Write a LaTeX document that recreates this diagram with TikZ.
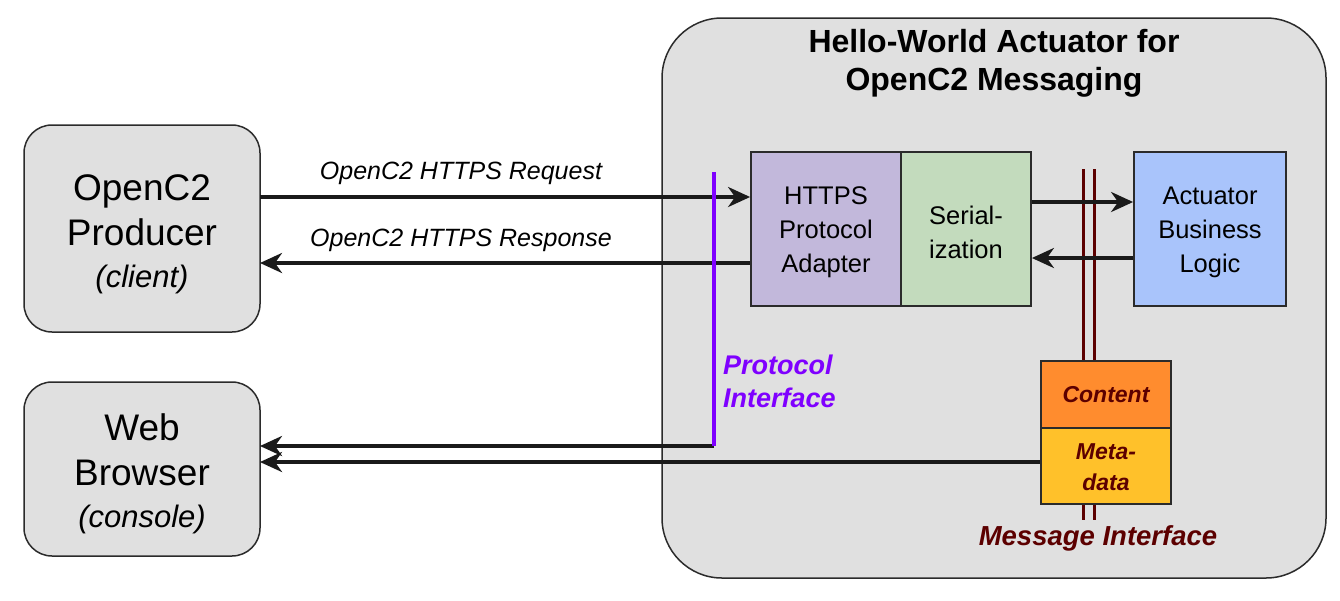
\documentclass[tikz,border=0pt]{standalone}
\usepackage{fontspec}
\setmainfont{Liberation Sans}
\usetikzlibrary{arrows.meta}
\definecolor{boxgray}{HTML}{E0E0E0}
\definecolor{edgegray}{HTML}{2B2B2B}
\definecolor{lav}{HTML}{C2B8DB}
\definecolor{sage}{HTML}{C3DBBD}
\definecolor{skyb}{HTML}{A9C4FB}
\definecolor{orng}{HTML}{FF8C2E}
\definecolor{ambr}{HTML}{FFC12A}
\definecolor{dred}{HTML}{5C0000}
\definecolor{purp}{HTML}{7F00FF}
\definecolor{arr}{HTML}{1A1A1A}
\tikzset{
  ext/.style={draw=edgegray, line width=1.5pt, fill=boxgray, rounded corners=28pt},
  inner/.style={draw=edgegray, line width=1.8pt, inner sep=0pt},
  conn/.style={draw=arr, line width=3.6pt, -{Stealth[length=22pt,width=20pt,inset=7pt]}},
  msgline/.style={draw=dred, line width=3pt},
  btxt/.style={font=\fontsize{25.5}{34}\selectfont, align=center, text=black},
  lbl/.style={font=\fontsize{25}{28}\selectfont\itshape, text=black},
}
\begin{document}
\begin{tikzpicture}[x=1pt,y=-1pt]
\useasboundingbox (0,0) rectangle (1340,600);
% outer boxes
\draw[ext] (24,125) rectangle (260,332);
\draw[ext] (24,382) rectangle (260,556);
\draw[ext, rounded corners=60pt] (662,18) rectangle (1326,578);
\node (producer) at (142,234) [align=center, font=\fontsize{37}{45}\selectfont] {OpenC2\\Producer\\[-3pt]{\fontsize{31}{36}\selectfont\itshape(client)}};
\coordinate (prodE) at (260,228);
\node (browser) at (142,474) [align=center, font=\fontsize{37}{45}\selectfont] {Web\\Browser\\[-3pt]{\fontsize{31}{36}\selectfont\itshape(console)}};
\node (title) at (994,63) [align=center, font=\fontsize{32}{38}\selectfont\bfseries] {Hello-World Actuator for\\OpenC2 Messaging};
% message interface lines
\draw[msgline] (1083,169) -- (1083,520);
\draw[msgline] (1094,169) -- (1094,520);
% inner boxes
\node[inner, fill=lav, minimum width=150pt, minimum height=154pt] (https) at (826,229) {};
\node[btxt] at (826,232) {HTTPS\\Protocol\\Adapter};
\node[inner, fill=sage, minimum width=130pt, minimum height=154pt] (ser) at (966,229) {};
\node[btxt] at (966,232) {Serial-\\ization};
\node[inner, fill=skyb, minimum width=152pt, minimum height=154pt] (act) at (1210,229) {};
\node[btxt] at (1210,232) {Actuator\\Business\\Logic};
\node[inner, fill=orng, minimum width=130pt, minimum height=67pt] (content) at (1106,394.5) {};
\node[font=\fontsize{23}{30}\selectfont\bfseries\itshape, text=dred] at (1106,395) {Content};
\node[inner, fill=ambr, minimum width=130pt, minimum height=76pt] (meta) at (1106,466) {};
\node[font=\fontsize{23}{31}\selectfont\bfseries\itshape, text=dred, align=center] at (1106,467) {Meta-\\data};
\node (msglbl) at (1098,538) [font=\fontsize{27.5}{30}\selectfont\bfseries\itshape, text=dred] {Message Interface};
% protocol interface
\coordinate (ptop) at (714,172);
\coordinate (pbot) at (714,446);
\node (protlbl) at (723,381) [anchor=west, inner sep=0pt, align=left, font=\fontsize{27}{33}\selectfont\bfseries\itshape, text=purp] {Protocol\\Interface};
% connectors
\draw[conn] (prodE |- 0,197) -- (https.west |- 0,197);
\node[lbl] (reqlbl) at (461,173) {OpenC2 HTTPS Request};
\draw[conn] (https.west |- 0,263) -- (prodE |- 0,263);
\node[lbl] (reslbl) at (461,240) {OpenC2 HTTPS Response};
\draw[conn] (ser.east |- 0,202) -- (act.west |- 0,202);
\draw[conn] (act.west |- 0,258) -- (ser.east |- 0,258);
\draw[conn] (pbot) -- (260,446);
\draw[conn] (meta.west |- 0,462) -- (260,462);
\draw[draw=purp, line width=3.5pt] (ptop) -- (pbot);
\end{tikzpicture}
\end{document}
